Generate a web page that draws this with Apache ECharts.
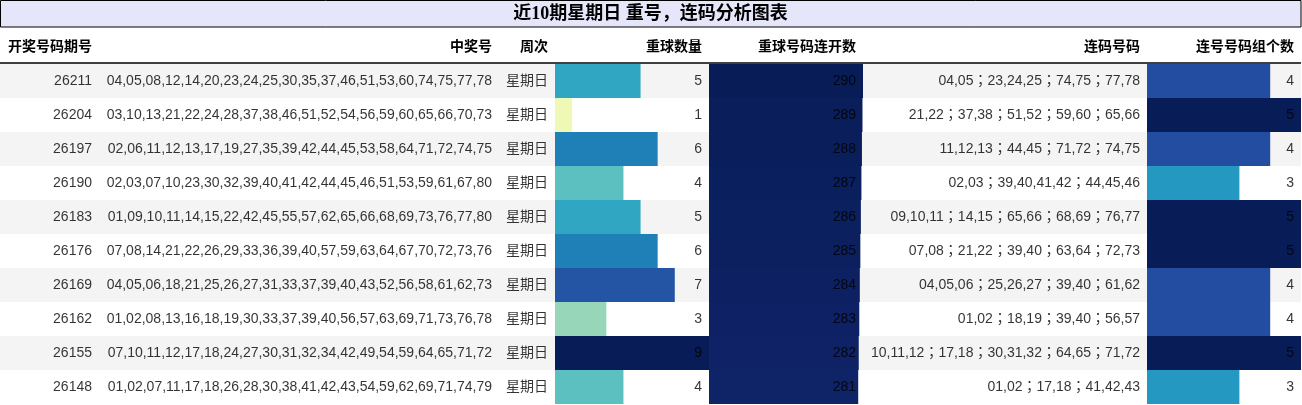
<!DOCTYPE html>
<html>
<head>
<meta charset="utf-8">
<script src="https://cdn.jsdelivr.net/npm/echarts@6/dist/echarts.min.js"></script>
<style>
html,body{margin:0;padding:0;background:#fff;}
#chart{width:1302px;height:405px;}
</style>
</head>
<body>
<div id="chart"></div>
<script>
// ---------------- data ----------------
const titleText = '近10期星期日 重号，连码分析图表';
const headers = ['开奖号码期号', '中奖号', '周次', '重球数量', '重球号码连开数', '连码号码', '连号号码组个数'];
const periods = ['26211', '26204', '26197', '26190', '26183', '26176', '26169', '26162', '26155', '26148'];
const winningNumbers = [
  '04,05,08,12,14,20,23,24,25,30,35,37,46,51,53,60,74,75,77,78',
  '03,10,13,21,22,24,28,37,38,46,51,52,54,56,59,60,65,66,70,73',
  '02,06,11,12,13,17,19,27,35,39,42,44,45,53,58,64,71,72,74,75',
  '02,03,07,10,23,30,32,39,40,41,42,44,45,46,51,53,59,61,67,80',
  '01,09,10,11,14,15,22,42,45,55,57,62,65,66,68,69,73,76,77,80',
  '07,08,14,21,22,26,29,33,36,39,40,57,59,63,64,67,70,72,73,76',
  '04,05,06,18,21,25,26,27,31,33,37,39,40,43,52,56,58,61,62,73',
  '01,02,08,13,16,18,19,30,33,37,39,40,56,57,63,69,71,73,76,78',
  '07,10,11,12,17,18,24,27,30,31,32,34,42,49,54,59,64,65,71,72',
  '01,02,07,11,17,18,26,28,30,38,41,42,43,54,59,62,69,71,74,79'
];
const weekdays = ['星期日', '星期日', '星期日', '星期日', '星期日', '星期日', '星期日', '星期日', '星期日', '星期日'];
const repeatCount = [5, 1, 6, 4, 5, 6, 7, 3, 9, 4];
const repeatStreak = [290, 289, 288, 287, 286, 285, 284, 283, 282, 281];
const consecutiveNumbers = [
  '04,05；23,24,25；74,75；77,78',
  '21,22；37,38；51,52；59,60；65,66',
  '11,12,13；44,45；71,72；74,75',
  '02,03；39,40,41,42；44,45,46',
  '09,10,11；14,15；65,66；68,69；76,77',
  '07,08；21,22；39,40；63,64；72,73',
  '04,05,06；25,26,27；39,40；61,62',
  '01,02；18,19；39,40；56,57',
  '10,11,12；17,18；30,31,32；64,65；71,72',
  '01,02；17,18；41,42,43'
];
const groupCount = [4, 5, 4, 3, 5, 5, 4, 4, 5, 3];

// ---------------- layout / style ----------------
const YLGNBU = ['#ffffd9', '#edf8b1', '#c7e9b4', '#7fcdbb', '#41b6c4', '#1d91c0', '#225ea8', '#253494', '#081d58'];
const FONT = "'Liberation Sans', 'Noto Sans CJK SC', sans-serif";
const FONT_TC = "'Liberation Sans', 'Noto Sans CJK TC', sans-serif";
const TOP = 64, ROWS_H = 340, RIGHT = 1301, PAD = 7;
const colLayout = [
  { left: 0, width: 99 },
  { left: 99, width: 400 },
  { left: 499, width: 56 },
  { left: 555, width: 154 },
  { left: 709, width: 154 },
  { left: 863, width: 284 },
  { left: 1147, width: 154 }
];
const rowIdx = periods.map((_, i) => String(i));

const columns = [
  { kind: 'text', values: periods, font: FONT },
  { kind: 'text', values: winningNumbers, font: FONT },
  { kind: 'text', values: weekdays, font: FONT },
  { kind: 'bar', values: repeatCount, font: FONT },
  { kind: 'bar', values: repeatStreak, font: FONT },
  { kind: 'text', values: consecutiveNumbers, font: FONT_TC },
  { kind: 'bar', values: groupCount, font: FONT }
];

const grid = [{ left: 0, width: RIGHT, top: TOP, height: ROWS_H }];
const xAxis = [{ gridIndex: 0, type: 'value', min: 0, max: 1, show: false }];
const yAxis = [{ gridIndex: 0, type: 'category', data: rowIdx, inverse: true, show: false }];
const series = [{
  type: 'bar', xAxisIndex: 0, yAxisIndex: 0, barCategoryGap: 0, silent: true,
  data: rowIdx.map((_, i) => ({ value: 1, itemStyle: { color: i % 2 === 0 ? '#f4f4f4' : '#ffffff' } }))
}];
const visualMap = [];

columns.forEach((col, ci) => {
  const gi = ci + 1;
  const L = colLayout[ci];
  grid.push({ left: L.left, width: L.width, top: TOP, height: ROWS_H });
  const max = col.kind === 'bar' ? Math.max(...col.values) : 1;
  xAxis.push({ gridIndex: gi, type: 'value', min: 0, max: max, show: false });
  yAxis.push({ gridIndex: gi, type: 'category', data: rowIdx, inverse: true, show: false });
  if (col.kind === 'bar') {
    visualMap.push({
      type: 'continuous', show: false, min: 0, max: max, dimension: 0,
      seriesIndex: series.length, inRange: { color: YLGNBU }
    });
    series.push({
      type: 'bar', xAxisIndex: gi, yAxisIndex: gi, barCategoryGap: 0, silent: true,
      data: col.values.map((v, i) => [v, i])
    });
  }
  series.push({
    type: 'scatter', xAxisIndex: gi, yAxisIndex: gi, silent: true,
    symbolSize: 1, itemStyle: { color: 'rgba(0,0,0,0)' }, z: 5,
    data: col.values.map((v, i) => [max, i, String(v)]),
    label: {
      show: true, position: 'left', distance: PAD - 0.5,
      formatter: p => p.data[2], color: '#000', fontSize: 14, fontFamily: col.font
    }
  });
});

const graphic = [
  {
    type: 'rect', shape: { x: 0.5, y: 0.5, width: RIGHT - 0.5, height: 26.5 },
    style: { fill: '#e6e6fa', stroke: '#000', lineWidth: 1 }, z: 10
  },
  {
    type: 'text', x: RIGHT / 2, y: 14, z: 11,
    style: {
      text: titleText, fill: '#000', align: 'center', verticalAlign: 'middle',
      font: "bold 18px 'Liberation Serif', 'Noto Sans CJK SC', serif"
    }
  },
  {
    type: 'line', shape: { x1: 0, y1: 63, x2: RIGHT, y2: 63 },
    style: { stroke: '#000', lineWidth: 1.5 }, z: 10
  }
];
headers.forEach((h, ci) => {
  const L = colLayout[ci];
  graphic.push({
    type: 'text', x: L.left + L.width - PAD, y: 47, z: 11,
    style: {
      text: h, fill: '#000', align: 'right', verticalAlign: 'middle',
      font: "bold 14px 'Liberation Sans', 'Noto Sans CJK SC', sans-serif"
    }
  });
});

const chart = echarts.init(document.getElementById('chart'));
chart.setOption({
  animation: false,
  backgroundColor: '#fff',
  grid, xAxis, yAxis, series, visualMap, graphic
});
</script>
</body>
</html>
